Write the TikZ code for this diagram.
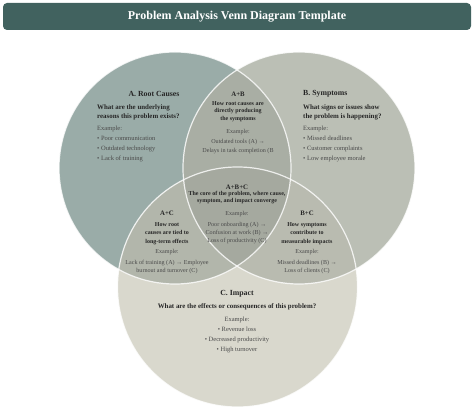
\documentclass[tikz,border=0pt]{standalone}
\usepackage{fontspec}
\setmainfont{Liberation Serif}
\usepackage{tikz}

\definecolor{barteal}{HTML}{41625F}
\definecolor{fillA}{HTML}{9AACA8}
\definecolor{fillB}{HTML}{BBBFB5}
\definecolor{fillC}{HTML}{D9D8CD}
\definecolor{fillAB}{HTML}{A9AEA4}
\definecolor{fillAC}{HTML}{B2B6AB}
\definecolor{fillBC}{HTML}{B9BBB0}
\definecolor{fillABC}{HTML}{A5A99F}
\definecolor{inkdark}{HTML}{262626}
\definecolor{inkgray}{HTML}{4A4A4A}

\begin{document}
\begin{tikzpicture}[
                    x=1pt, y=-1pt,
                    every node/.style={
                        inner sep=0pt,
                        text=inkdark
                    },
                    heading/.style={font=\fontsize{7.8}{9}\selectfont\bfseries},
                    question/.style={font=\fontsize{6.9}{9}\selectfont\bfseries, align=left},
                    example/.style={font=\fontsize{6.5}{10}\selectfont, text=inkgray, align=left},
                    subhead/.style={font=\fontsize{6.8}{8}\selectfont\bfseries},
                    subask/.style={font=\fontsize{6}{7.6}\selectfont\bfseries, align=center},
                    subex/.style={font=\fontsize{6.1}{8.4}\selectfont, text=inkgray, align=center}
                ]
                    \useasboundingbox (0,0) rectangle (474,411);

                    % Circle centres
                    \coordinate (cA) at (175,168);
                    \coordinate (cB) at (299,168);
                    \coordinate (cC) at (237.5,287);

                    % Regions
                    \fill[fillA] (cA) circle[radius=116pt];
                    \fill[fillB] (cB) circle[radius=116pt];
                    \fill[fillC] (cC) circle[radius=120pt];
                    \begin{scope}
                        \clip (cA) circle[radius=116pt];
                        \fill[fillAB] (cB) circle[radius=116pt];
                        \fill[fillAC] (cC) circle[radius=120pt];
                    \end{scope}
                    \begin{scope}
                        \clip (cB) circle[radius=116pt];
                        \fill[fillBC] (cC) circle[radius=120pt];
                    \end{scope}
                    \begin{scope}
                        \clip (cA) circle[radius=116pt];
                        \clip (cB) circle[radius=116pt];
                        \fill[fillABC] (cC) circle[radius=120pt];
                    \end{scope}

                    % Outlines
                    \draw[white, opacity=0.8, line width=1.2pt] (cA) circle[radius=116pt];
                    \draw[white, opacity=0.8, line width=1.2pt] (cB) circle[radius=116pt];
                    \draw[white, opacity=0.8, line width=1.2pt] (cC) circle[radius=120pt];

                    % Title bar
                    \fill[barteal, rounded corners=4pt] (3,3) rectangle (471,30);
                    \node[text=white, font=\fontsize{12}{14}\selectfont\bfseries] (title) at (237,16.5) {Problem Analysis Venn Diagram Template};

                    % A. Root Causes
                    \node[heading] (A-head) at (154,94) {A. Root Causes};
                    \node[question, anchor=west] (A-ask) at (97,112.5) {What are the underlying\\reasons this problem exists?};
                    \node[example, anchor=west] (A-ex) at (97,129) {Example:};
                    \node[example, anchor=west] (A-list) at (97,149) {• Poor communication\\• Outdated technology\\• Lack of training};

                    % B. Symptoms
                    \node[heading, anchor=west] (B-head) at (303,94) {B. Symptoms};
                    \node[question, anchor=west] (B-ask) at (303,112.5) {What signs or issues show\\the problem is happening?};
                    \node[example, anchor=west] (B-ex) at (303,129) {Example:};
                    \node[example, anchor=west] (B-list) at (303,149) {• Missed deadlines\\• Customer complaints\\• Low employee morale};

                    % A+B
                    \node[subhead] (AB-head) at (238,94) {A+B};
                    \node[subask] (AB-ask) at (238,111.5) {How root causes are\\directly producing\\the symptoms};
                    \node[subex] (AB-ex) at (238,132) {Example:};
                    \node[subex, font=\fontsize{6.1}{9}\selectfont] (AB-list) at (238,146.5) {Outdated tools (A) →\\Delays in task completion (B};

                    % A+B+C
                    \node[subhead] (ABC-head) at (237,187) {A+B+C};
                    \node[subask] (ABC-ask) at (237,197.5) {The core of the problem, where cause,\\symptom, and impact converge};
                    \node[subex] (ABC-ex) at (237,214) {Example:};
                    \node[subex, font=\fontsize{6.1}{8}\selectfont] (ABC-list) at (237,233) {Poor onboarding (A) →\\Confusion at work (B) →\\Loss of productivity (C)};

                    % A+C
                    \node[subhead] (AC-head) at (167,213) {A+C};
                    \node[subask, font=\fontsize{6}{8.5}\selectfont\bfseries] (AC-ask) at (167,233.3) {How root\\causes are tied to\\long-term effects};
                    \node[subex] (AC-ex) at (167,252) {Example:};
                    \node[subex] (AC-list) at (167,267) {Lack of training (A) → Employee\\burnout and turnover (C)};

                    % B+C
                    \node[subhead] (BC-head) at (307,213) {B+C};
                    \node[subask, font=\fontsize{6}{8.5}\selectfont\bfseries] (BC-ask) at (307,233.3) {How symptoms\\contribute to\\measurable impacts};
                    \node[subex] (BC-ex) at (307,252) {Example:};
                    \node[subex] (BC-list) at (307,267) {Missed deadlines (B) →\\Loss of clients (C)};

                    % C. Impact
                    \node[heading] (C-head) at (237,294) {C. Impact};
                    \node[question] (C-ask) at (237,307) {What are the effects or consequences of this problem?};
                    \node[example] (C-ex) at (237,320) {Example:};
                    \node[example, align=center] (C-list) at (237,340) {• Revenue loss\\• Decreased productivity\\• High turnover};
                \end{tikzpicture}
\end{document}
